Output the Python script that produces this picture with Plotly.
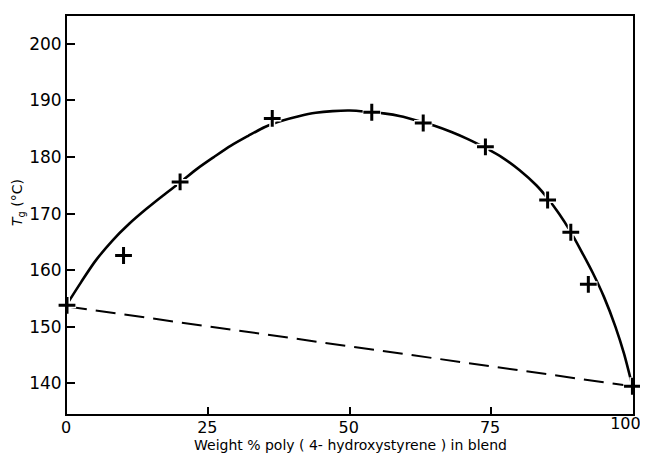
import plotly.graph_objects as go

# Measured data points (weight % P4HS, Tg in °C)
wt_pct = [0, 10, 20, 36.3, 53.9, 63, 74, 85, 89.1, 92.2, 100]
tg_meas = [153.8, 162.6, 175.6, 186.8, 187.9, 186.0, 181.8, 172.4, 166.7, 157.5, 139.5]

# Smooth fitted curve
curve_x = [0, 2.5, 5, 8, 11, 14, 17, 20, 23, 26, 29, 32, 35, 38, 41, 44, 47, 50,
           53, 56, 59, 62, 65, 68, 71, 74, 77, 80, 83, 85, 87, 89, 91, 93, 95, 97, 98.5, 100]
curve_y = [154.0, 157.9, 161.6, 165.2, 168.2, 170.8, 173.2, 175.5, 177.9, 180.0, 182.0, 183.7,
           185.3, 186.4, 187.2, 187.8, 188.1, 188.2, 188.0, 187.7, 187.2, 186.4, 185.5, 184.4,
           183.1, 181.6, 179.9, 177.7, 175.0, 172.7, 170.0, 166.9, 163.3, 159.5, 155.2, 150.0,
           145.3, 139.5]

# Additivity (dashed) line
add_x = [0, 100]
add_y = [153.6, 139.5]

x_ticks = [0, 25, 50, 75]
x_ticks_end = [100]
y_ticks = [140, 150, 160, 170, 180, 190, 200]

FONT = "DejaVu Sans"

fig = go.Figure()
fig.add_trace(go.Scatter(x=add_x, y=add_y, mode="lines",
                         line=dict(color="black", width=2, dash="20px,9px"),
                         showlegend=False, hoverinfo="skip"))
fig.add_trace(go.Scatter(x=curve_x, y=curve_y, mode="lines",
                         line=dict(color="black", width=2.6, shape="spline", smoothing=0.8),
                         showlegend=False, hoverinfo="skip"))
# crosses (with a white halo) on the overlay axis that also carries the "100" label
fig.add_trace(go.Scatter(x=wt_pct, y=tg_meas, mode="markers", xaxis="x2", cliponaxis=False,
                         marker=dict(symbol="cross-thin", size=13, color="white",
                                     line=dict(color="white", width=6)),
                         showlegend=False, hoverinfo="skip"))
fig.add_trace(go.Scatter(x=wt_pct, y=tg_meas, mode="markers", xaxis="x2", cliponaxis=False,
                         marker=dict(symbol="cross-thin", size=12, color="black",
                                     line=dict(color="black", width=3)),
                         showlegend=False))

fig.update_layout(
    width=648, height=454,
    margin=dict(l=59, r=23, t=6, b=48),
    paper_bgcolor="white", plot_bgcolor="white",
    font=dict(family=FONT, color="black", size=15),
    xaxis=dict(range=[0, 100.1], tickvals=x_ticks,
               ticks="inside", ticklen=7, tickwidth=1.5,
               tickcolor="black", showgrid=False, zeroline=False,
               showline=True, linecolor="black", linewidth=2, mirror=True,
               tickfont=dict(family=FONT, size=16, color="black"),
               ticklabelstandoff=-2, ticklabelshift=-1),
    xaxis2=dict(range=[0, 100.1], matches="x", overlaying="x", anchor="y", side="bottom",
                tickvals=x_ticks_end, ticks="", showgrid=False, zeroline=False, showline=False,
                tickfont=dict(family=FONT, size=16, color="black"),
                ticklabelstandoff=-2, ticklabelshift=-7),
    yaxis=dict(range=[134.6, 204.9], tickvals=y_ticks, ticks="inside", ticklen=8, tickwidth=1.5,
               tickcolor="black", showgrid=False, zeroline=False,
               showline=True, linecolor="black", linewidth=2, mirror=True,
               tickfont=dict(family=FONT, size=17, color="black"), ticklabelstandoff=0),
    annotations=[
        dict(text="Weight % poly ( 4- hydroxystyrene ) in blend", xref="paper", yref="paper",
             x=0.5, y=0, yshift=-31, xanchor="center", yanchor="middle", showarrow=False,
             font=dict(family=FONT, size=14, color="black")),
        dict(text="<i>T</i><sub>g</sub> (°C)", xref="paper", yref="paper",
             x=0, xshift=-49, y=0.53, xanchor="center", yanchor="middle", showarrow=False,
             textangle=-90, font=dict(family=FONT, size=14, color="black")),
    ],
)

fig.write_html("out.html")
